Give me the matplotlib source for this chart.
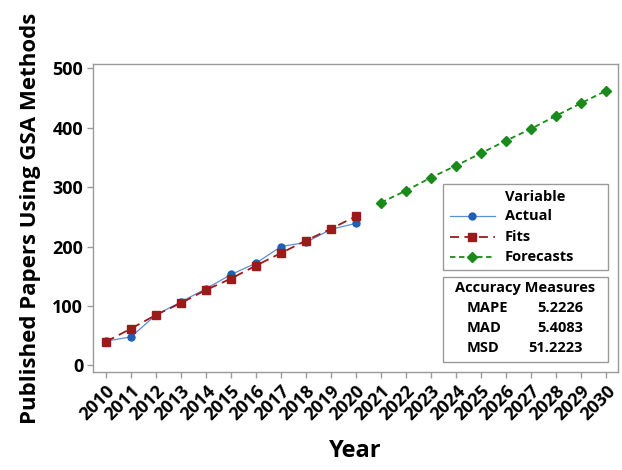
import matplotlib.pyplot as plt
from matplotlib.lines import Line2D

# Yearly counts of published papers
actual_years = list(range(2010, 2021))
actual = [41, 48, 85, 107, 129, 153, 172, 200, 207, 229, 239]
fits = [40, 62, 85, 105, 127, 146, 168, 189, 210, 230, 251]
forecast_years = list(range(2021, 2031))
forecasts = [274, 294, 316, 336, 357, 378, 398, 420, 441, 462]

series_names = ["Actual", "Fits", "Forecasts"]
measures = ["MAPE", "MAD", "MSD"]
measure_values = ["5.2226", "5.4083", "51.2223"]

plt.rcParams['font.family'] = ['Open Sans', 'DejaVu Sans']
plt.rcParams['font.weight'] = 'bold'
plt.rcParams['axes.labelweight'] = 'bold'

W, H = 622, 470
fig = plt.figure(figsize=(W / 100, H / 100), dpi=100)
ax = fig.add_axes([93 / W, 1 - 372 / H, 525 / W, 308 / H])

blue = '#1f5fb4'
light_blue = '#5b8fd6'
red = '#9b1b1b'
green = '#1a8a1a'
frame = '#9a9a9a'

styles = [
    dict(color=light_blue, lw=0.9, marker='o', ms=5, mfc=blue, mec=blue),
    dict(color=red, lw=1.3, ls=(0, (5, 3)), marker='s', ms=6, mfc=red, mec=red),
    dict(color=green, lw=1.3, ls=(0, (3, 2)), marker='D', ms=5, mfc=green, mec=green),
]

ax.plot(actual_years, actual, **styles[0])
ax.plot(actual_years, fits, **styles[1])
ax.plot(forecast_years, forecasts, **styles[2])

ax.set_xlim(2009.48, 2030.48)
ax.set_ylim(-11, 507)
ax.set_yticks([0, 100, 200, 300, 400, 500])
years = actual_years + forecast_years
ax.set_xticks(years)
ax.set_xticklabels([str(y) for y in years], rotation=45, ha='right',
                   rotation_mode='anchor', fontsize=13)
for lab in ax.get_yticklabels():
    lab.set_fontsize(13)

for s in ax.spines.values():
    s.set_color(frame)
    s.set_linewidth(1.0)
ax.tick_params(axis='both', color=frame, length=4, width=1, pad=3)

ax.set_ylabel('Published Papers Using GSA Methods', fontsize=16, labelpad=8)
ax.set_xlabel('Year', fontsize=17, labelpad=11)


def fx(px):
    return px / W


def fy(py):
    return 1 - py / H


# Legend box for the three series
fig.patches.append(plt.Rectangle((fx(443), fy(270)), fx(165), 86 / H,
                                 transform=fig.transFigure, fill=False,
                                 ec=frame, lw=1.0))
fig.text(fx(505), fy(197), 'Variable', ha='left', va='center', fontsize=10.5)
for name, st, row_y in zip(series_names, styles, [216, 237, 257]):
    line_kw = {k: v for k, v in st.items() if k not in ('marker', 'ms', 'mfc', 'mec')}
    fig.add_artist(Line2D([fx(450), fx(495)], [fy(row_y), fy(row_y)],
                          transform=fig.transFigure, **line_kw))
    fig.add_artist(Line2D([fx(472)], [fy(row_y)], transform=fig.transFigure,
                          ls='none', marker=st['marker'], ms=st['ms'],
                          mfc=st['mfc'], mec=st['mec']))
    fig.text(fx(505), fy(row_y), name, ha='left', va='center', fontsize=10.5)

# Accuracy measures box
fig.patches.append(plt.Rectangle((fx(443), fy(362)), fx(165), 85 / H,
                                 transform=fig.transFigure, fill=False,
                                 ec=frame, lw=1.0))
fig.text(fx(525), fy(288), 'Accuracy Measures', ha='center', va='center',
         fontsize=10.5)
for m, v, row_y in zip(measures, measure_values, [308, 328, 348]):
    fig.text(fx(467), fy(row_y), m, ha='left', va='center', fontsize=10.5)
    fig.text(fx(583), fy(row_y), v, ha='right', va='center', fontsize=10.5)

fig.savefig('out.png', dpi=100)
